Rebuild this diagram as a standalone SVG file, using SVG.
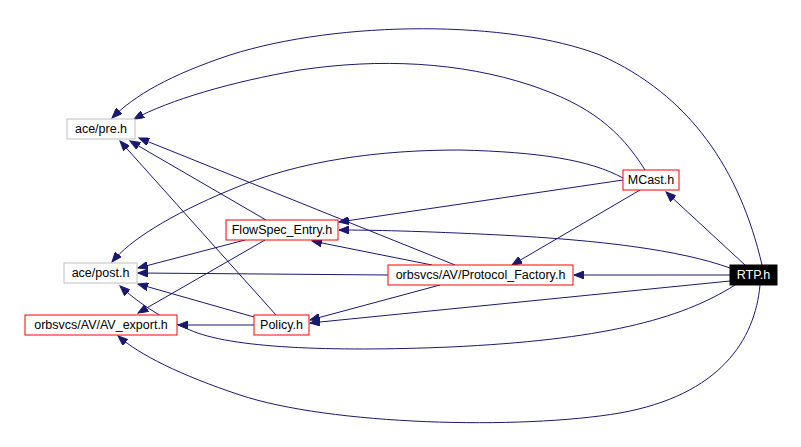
<svg xmlns="http://www.w3.org/2000/svg" width="801" height="447" viewBox="0 0 801 447">
<style>
.n rect{stroke-width:1}
.g rect{fill:#fff;stroke:#bfbfbf}
.r rect{fill:#fff;stroke:#ff0000}
.k rect{fill:#000;stroke:#000}
text{font-family:"Liberation Sans",Arial,sans-serif;font-size:12.5px;text-anchor:middle;fill:#000}
.k text{fill:#fff}
#edges path{fill:none;stroke:#191970;stroke-width:1;marker-end:url(#ah)}
</style>
<defs>
<marker id="ah" markerUnits="userSpaceOnUse" markerWidth="11" markerHeight="8" refX="10" refY="4" orient="auto">
<path d="M0,0 L10,4 L0,8 z" fill="#191970" stroke="#191970"/>
</marker>
</defs>
<rect width="801" height="447" fill="#fff"/>
<g id="edges">
<path d="M762,265 C740,170 690,95 600,55 C510,20 340,20 230,55 C170,75 135,95 112,118"/>
<path d="M645,170 C620,130 590,105 530,85 C460,62 380,58 300,70 C230,82 170,100 134,119"/>
<path d="M266,220 L130,141"/>
<path d="M276,315 L120,141"/>
<path d="M455,265 L139,138"/>
<path d="M745,265 L666,192"/>
<path d="M623,178 C590,160 540,152 460,150 C380,150 300,160 230,190 C170,215 130,240 112,262"/>
<path d="M623,180 L339,222"/>
<path d="M640,190 L512,265"/>
<path d="M730,268 C680,250 600,240 500,235 C420,231 370,230 339,230"/>
<path d="M730,275 L574,275"/>
<path d="M432,265 L312,241"/>
<path d="M388,275 L138,273"/>
<path d="M440,285 L310,320"/>
<path d="M245,240 L138,268"/>
<path d="M265,240 L138,313"/>
<path d="M254,317 L138,284"/>
<path d="M735,285 C680,320 600,340 450,347 C330,352 230,348 190,330 C160,318 135,300 120,286"/>
<path d="M254,325 L178,325"/>
<path d="M730,281 L310,323"/>
<path d="M760,285 C755,340 720,395 620,413 C520,430 330,425 240,395 C180,375 140,355 118,336"/>
</g>
<g id="pre" class="n g"><rect x="67" y="119" width="68" height="20"/><text x="101" y="133">ace/pre.h</text></g>
<g id="post" class="n g"><rect x="64" y="263" width="73" height="20"/><text x="100.5" y="277">ace/post.h</text></g>
<g id="avexport" class="n r"><rect x="25" y="315" width="152" height="20"/><text x="101" y="329">orbsvcs/AV/AV_export.h</text></g>
<g id="flowspec" class="n r"><rect x="226" y="220" width="112" height="20"/><text x="282" y="234">FlowSpec_Entry.h</text></g>
<g id="policy" class="n r"><rect x="254" y="315" width="55" height="20"/><text x="281.5" y="329">Policy.h</text></g>
<g id="pf" class="n r"><rect x="388" y="265" width="185" height="20"/><text x="480.5" y="279">orbsvcs/AV/Protocol_Factory.h</text></g>
<g id="mcast" class="n r"><rect x="623" y="170" width="56" height="20"/><text x="651" y="184">MCast.h</text></g>
<g id="rtp" class="n k"><rect x="730" y="265" width="47" height="20"/><text x="753.5" y="279">RTP.h</text></g>
</svg>
